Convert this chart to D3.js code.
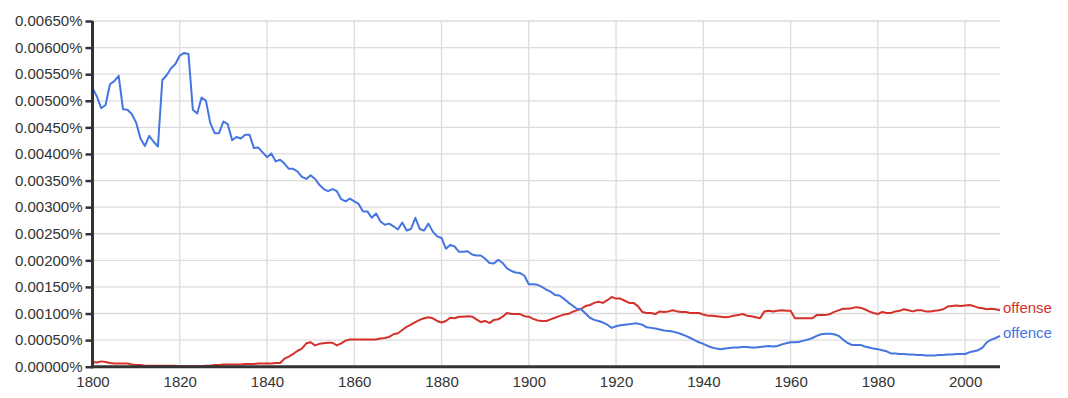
<!DOCTYPE html>
<html>
<head>
<meta charset="utf-8">
<script src="https://cdn.jsdelivr.net/npm/d3@7"></script>
<style>
  body { margin: 0; background: #fff; }
  svg { display: block; font-family: "Liberation Sans", Arial, sans-serif; }
</style>
</head>
<body>
<div id="chart"></div>
<script>
// years 1800..2008, one value per year (percent)
const years = d3.range(1800, 2009);

const offence = [
  0.00524, 0.00508, 0.00486, 0.00492, 0.00531, 0.00537, 0.00547, 0.00484, 0.00483, 0.00475,
  0.00459, 0.00429, 0.00415, 0.00434, 0.00423, 0.00414, 0.00539, 0.00548, 0.00561, 0.00569,
  0.00585, 0.00590, 0.00588, 0.00483, 0.00476, 0.00506, 0.00500, 0.00458, 0.00439, 0.00439,
  0.00461, 0.00456, 0.00426, 0.00432, 0.00429, 0.00436, 0.00436, 0.00411, 0.00412, 0.00403,
  0.00394, 0.00401, 0.00386, 0.00389, 0.00382, 0.00372, 0.00372, 0.00367, 0.00357, 0.00353,
  0.00360, 0.00353, 0.00342, 0.00334, 0.00330, 0.00334, 0.00330, 0.00315, 0.00311, 0.00316,
  0.00311, 0.00306, 0.00292, 0.00292, 0.00280, 0.00288, 0.00273, 0.00267, 0.00269, 0.00264,
  0.00258, 0.00271, 0.00256, 0.00259, 0.00280, 0.00259, 0.00256, 0.00269, 0.00254, 0.00245,
  0.00242, 0.00222, 0.00229, 0.00226, 0.00216, 0.00216, 0.00217, 0.00211, 0.00209, 0.00209,
  0.00203, 0.00195, 0.00194, 0.00201, 0.00195, 0.00185, 0.00180, 0.00177, 0.00176, 0.00171,
  0.00155, 0.00155, 0.00154, 0.00150, 0.00145, 0.00141, 0.00135, 0.00134, 0.00128, 0.00121,
  0.00115, 0.00109, 0.00108, 0.00100, 0.00092, 0.00088, 0.00086, 0.00083, 0.00079, 0.00073,
  0.00076, 0.00078, 0.00079, 0.00080, 0.00081, 0.00081, 0.00079, 0.00074, 0.00073, 0.00072,
  0.00070, 0.00068, 0.00067, 0.00066, 0.00064, 0.00061, 0.00058, 0.00054, 0.00050, 0.00046,
  0.00043, 0.00039, 0.00036, 0.00034, 0.00033, 0.00034, 0.00035, 0.00036, 0.00036, 0.00037,
  0.00037, 0.00036, 0.00036, 0.00037, 0.00038, 0.00039, 0.00038, 0.00039, 0.00042, 0.00044,
  0.00046, 0.00046, 0.00047, 0.00049, 0.00051, 0.00054, 0.00058, 0.00061, 0.00062, 0.00062,
  0.00061, 0.00058, 0.00051, 0.00045, 0.00041, 0.00041, 0.00041, 0.00038, 0.00036, 0.00034,
  0.00033, 0.00031, 0.00029, 0.00025, 0.00025, 0.00024, 0.00024, 0.00023, 0.00023, 0.00022,
  0.00022, 0.00021, 0.00021, 0.00021, 0.00022, 0.00022, 0.00023, 0.00023, 0.00024, 0.00024,
  0.00024, 0.00027, 0.00029, 0.00031, 0.00036, 0.00046, 0.00051, 0.00054, 0.00058
];

const offense = [
  0.00009, 0.00008, 0.00010, 0.00009, 0.00007, 0.00006, 0.00006, 0.00006, 0.00006, 0.00004,
  0.00003, 0.00003, 0.00002, 0.00002, 0.00002, 0.00002, 0.00002, 0.00002, 0.00002, 0.00002,
  0.00001, 0.00001, 0.00001, 0.00001, 0.00001, 0.00001, 0.00002, 0.00002, 0.00003, 0.00003,
  0.00004, 0.00004, 0.00004, 0.00004, 0.00004, 0.00005, 0.00005, 0.00005, 0.00006, 0.00006,
  0.00006, 0.00006, 0.00007, 0.00007, 0.00015, 0.00019, 0.00024, 0.00030, 0.00034, 0.00044,
  0.00046, 0.00040, 0.00043, 0.00044, 0.00045, 0.00045, 0.00040, 0.00044, 0.00049, 0.00051,
  0.00051, 0.00051, 0.00051, 0.00051, 0.00051, 0.00051, 0.00053, 0.00054, 0.00056, 0.00061,
  0.00063, 0.00069, 0.00075, 0.00079, 0.00084, 0.00088, 0.00091, 0.00093, 0.00091, 0.00086,
  0.00083, 0.00086, 0.00092, 0.00091, 0.00094, 0.00094, 0.00095, 0.00094, 0.00089, 0.00084,
  0.00086, 0.00082, 0.00088, 0.00089, 0.00094, 0.00101, 0.00099, 0.00099, 0.00099, 0.00095,
  0.00094, 0.00090, 0.00087, 0.00086, 0.00086, 0.00089, 0.00092, 0.00095, 0.00098, 0.00099,
  0.00103, 0.00106, 0.00109, 0.00114, 0.00116, 0.00120, 0.00122, 0.00120, 0.00125, 0.00131,
  0.00128, 0.00128, 0.00124, 0.00120, 0.00120, 0.00114, 0.00103, 0.00101, 0.00101, 0.00099,
  0.00104, 0.00103, 0.00104, 0.00106, 0.00104, 0.00103, 0.00103, 0.00101, 0.00101, 0.00101,
  0.00098, 0.00096, 0.00096, 0.00095, 0.00094, 0.00093, 0.00094, 0.00096, 0.00097, 0.00099,
  0.00096, 0.00095, 0.00093, 0.00091, 0.00104, 0.00105, 0.00104, 0.00105, 0.00106, 0.00105,
  0.00105, 0.00091, 0.00091, 0.00091, 0.00091, 0.00091, 0.00097, 0.00097, 0.00097, 0.00099,
  0.00103, 0.00106, 0.00109, 0.00109, 0.00110, 0.00112, 0.00111, 0.00108, 0.00104, 0.00101,
  0.00099, 0.00103, 0.00101, 0.00101, 0.00104, 0.00105, 0.00108, 0.00106, 0.00104, 0.00106,
  0.00106, 0.00104, 0.00104, 0.00105, 0.00106, 0.00108, 0.00113, 0.00114, 0.00115, 0.00114,
  0.00115, 0.00116, 0.00114, 0.00111, 0.00110, 0.00108, 0.00109, 0.00108, 0.00106
];

const yTicks = d3.range(0, 0.00651, 0.0005);
const xTicks = [1800, 1820, 1840, 1860, 1880, 1900, 1920, 1940, 1960, 1980, 2000];

const series = [
  { name: "offense", values: offense, color: "#d4312c" },
  { name: "offence", values: offence, color: "#4475e0" }
];

const width = 1068, height = 398;
const margin = { top: 21, right: 68, bottom: 31, left: 92.5 };

const x = d3.scaleLinear().domain([1800, 2008]).range([margin.left, width - margin.right]);
const y = d3.scaleLinear().domain([0, 0.0065]).range([height - margin.bottom - 0.3, margin.top]);

const svg = d3.select("#chart").append("svg")
  .attr("width", width)
  .attr("height", height);

// grid
svg.append("g")
  .selectAll("line")
  .data(yTicks.slice(1))
  .enter()
  .append("line")
  .attr("x1", margin.left)
  .attr("x2", x(2008))
  .attr("y1", d => y(d))
  .attr("y2", d => y(d))
  .attr("stroke", "#dcdcdc")
  .attr("stroke-width", 1.3);

svg.append("g")
  .selectAll("line")
  .data(xTicks.slice(1))
  .enter()
  .append("line")
  .attr("x1", d => x(d))
  .attr("x2", d => x(d))
  .attr("y1", y(0.0065))
  .attr("y2", y(0))
  .attr("stroke", "#dcdcdc")
  .attr("stroke-width", 1.3);

// lines
const line = d3.line()
  .x((d, i) => x(years[i]))
  .y(d => y(d));

svg.append("g")
  .selectAll("path")
  .data(series)
  .enter()
  .append("path")
  .attr("fill", "none")
  .attr("stroke", d => d.color)
  .attr("stroke-width", 2)
  .attr("stroke-linejoin", "round")
  .attr("d", d => line(d.values));

// series labels at line ends
svg.append("g")
  .selectAll("text")
  .data(series)
  .enter()
  .append("text")
  .attr("x", x(2008) + 3)
  .attr("y", d => y(d.values[d.values.length - 1]) - 3)
  .attr("dy", "0.35em")
  .attr("fill", d => d.color)
  .style("font-size", "15px")
  .text(d => d.name);

// axes
const yAxis = d3.axisLeft(y)
  .tickValues(yTicks)
  .tickSize(7)
  .tickPadding(3)
  .tickFormat(d => d.toFixed(5) + "%");

const yg = svg.append("g")
  .attr("transform", `translate(${margin.left},0)`)
  .call(yAxis);

const xAxis = d3.axisBottom(x)
  .tickValues(xTicks)
  .tickSize(0)
  .tickPadding(10)
  .tickFormat(d3.format("d"));

const xg = svg.append("g")
  .attr("transform", `translate(0,${y(0)})`)
  .call(xAxis);

[yg, xg].forEach(g => {
  g.select(".domain").attr("stroke", "#333").attr("stroke-width", 3);
  g.selectAll(".tick line").attr("stroke", "#333").attr("stroke-width", 2.5);
  g.selectAll(".tick text").attr("fill", "#333").style("font-size", "15px").style("font-family", "'Liberation Sans', Arial, sans-serif");
});
yg.select(".domain").attr("d", `M0,${y(0.0065)}V${y(0) + 1.5}`);
xg.select(".domain").attr("d", `M${margin.left - 1.5},0H${x(2008)}`);
</script>
</body>
</html>
